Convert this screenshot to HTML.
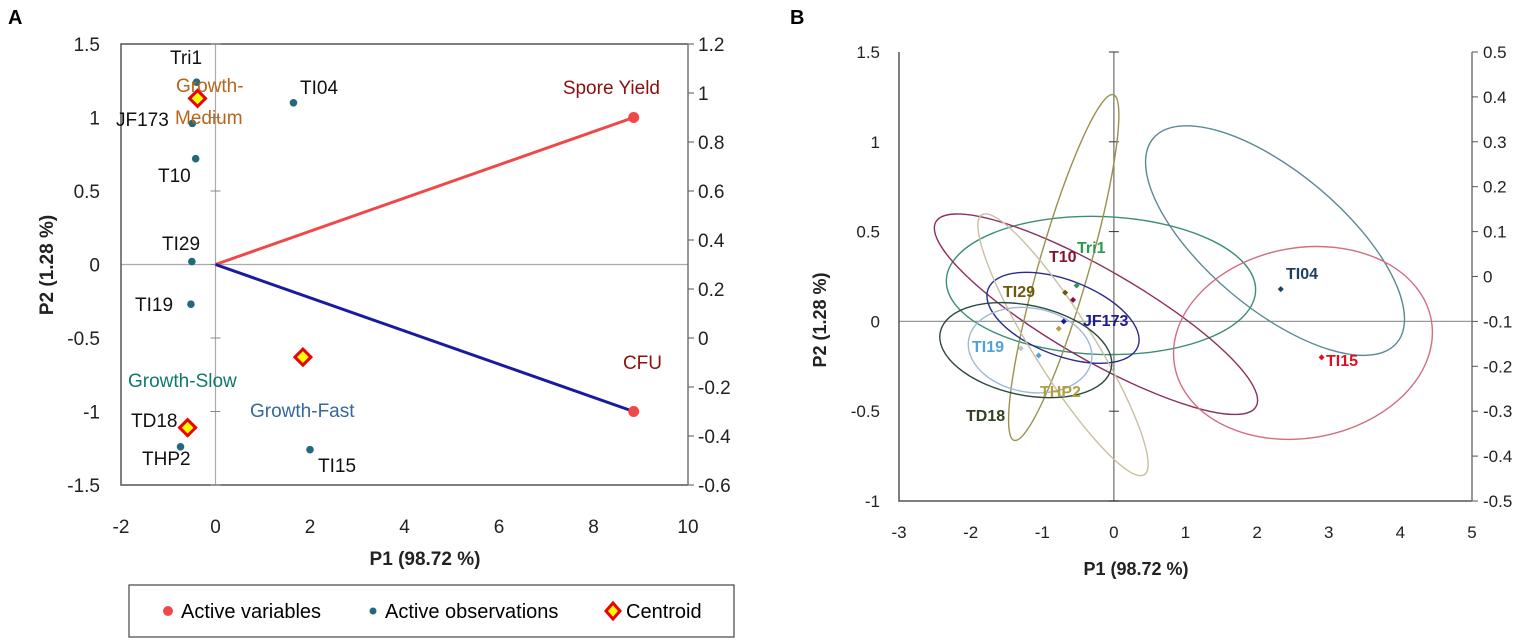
<!DOCTYPE html>
<html><head><meta charset="utf-8"><style>
body{margin:0;background:#fff;}
svg{display:block;font-family:"Liberation Sans",sans-serif;}
</style></head><body>
<svg id="fig" width="1535" height="642" viewBox="0 0 1535 642">
<text x="8" y="24" font-size="20" font-weight="bold">A</text>
<text x="790" y="24" font-size="20" font-weight="bold">B</text>
<g id="pa"></g>
<g id="pb"></g>
<g>
<rect x="129" y="585" width="605" height="52" fill="#fff" stroke="#444" stroke-width="1.2"/>
<circle cx="168" cy="611" r="5" fill="#f04848"/>
<text x="181" y="618" font-size="20">Active variables</text>
<circle cx="373" cy="611" r="3.5" fill="#23697d"/>
<text x="385" y="618" font-size="20">Active observations</text>
<path d="M613 603 L620 611 L613 619 L606 611Z" fill="#ff0" stroke="#e00" stroke-width="3"/>
<text x="626" y="618" font-size="20">Centroid</text>
</g>
</svg>
<script>
// ---------- Panel A data ----------
const aObsNames = ["Tri1","JF173","T10","TI29","TI19","TD18","THP2","TI04","TI15"];
const aObsP1 = [-0.4,-0.49,-0.42,-0.5,-0.52,-0.62,-0.74,1.65,2.0];
const aObsP2 = [1.24,0.96,0.72,0.02,-0.27,-1.1,-1.24,1.1,-1.26];
const aVarNames = ["Spore Yield","CFU"];
const aVarP1 = [8.85,8.85];
const aVarP2 = [1.0,-1.0];
const aCentNames = ["Growth-Medium","Growth-Fast","Growth-Slow"];
const aCentP1 = [-0.38,1.85,-0.59];
const aCentP2 = [1.13,-0.63,-1.11];
const aXTicks = [-2,0,2,4,6,8,10];
const aYTicks = [1.5,1,0.5,0,-0.5,-1,-1.5];
const aY2Ticks = [1.2,1,0.8,0.6,0.4,0.2,0,-0.2,-0.4,-0.6];

// ---------- Panel B data ----------
const bNames = ["Tri1","T10","TI29","JF173","THP2","TI19","TD18","TI04","TI15"];
const bP1 = [-0.52,-0.57,-0.68,-0.70,-0.77,-1.05,-1.3,2.33,2.9];
const bP2 = [0.20,0.12,0.16,0.0,-0.04,-0.19,-0.15,0.18,-0.2];
const bColors = ["#2a9a50","#8b1030","#6a5a10","#1a1a9a","#b0a040","#4ea0e0","#304020","#1f3f5f","#e01020"];
// ellipses: centre (data), semi-axes (data units along P1 scale / P2 scale), rotation deg
const eCx = [-0.18,-0.25,-0.70,-0.71,-0.71,-1.17,-1.23,2.25,2.64];
const eCy = [0.20,0.04,0.30,0.02,-0.13,-0.16,-0.16,0.45,-0.12];
const eRx = [2.16,2.58,2.51,1.12,2.14,0.87,1.22,2.22,1.82];
const eRy = [0.384,0.25,0.14,0.21,0.167,0.234,0.25,0.38,0.53];
const eRot = [2,30,-74,21,58,10,12,40,-10];
const eColors = ["#3d8e74","#8a3060","#9a9050","#2a2a90","#c8c0a0","#9fb8d8","#2d4a40","#5b8a94","#d06f80"];
const bXTicks = [-3,-2,-1,0,1,2,3,4,5];
const bYTicks = [1.5,1,0.5,0,-0.5,-1];
const bY2Ticks = [0.5,0.4,0.3,0.2,0.1,0,-0.1,-0.2,-0.3,-0.4,-0.5];

const NS="http://www.w3.org/2000/svg";
function mk(parent,tag,attrs,text){const e=document.createElementNS(NS,tag);for(const k in attrs)e.setAttribute(k,attrs[k]);if(text!==undefined)e.textContent=text;parent.appendChild(e);return e;}

// ---- Panel A ----
const pa=document.getElementById('pa');
const aL=121,aR=688,aT=44,aB=485;
const ax=v=>aL+(v-(-2))/12*(aR-aL);
const ay=v=>aT+(1.5-v)/3*(aB-aT);
const ay2=v=>aT+(1.2-v)/1.8*(aB-aT);
let e;
e=mk(pa,'line',{x1:ax(0),y1:aT,x2:ax(0),y2:aB,stroke:'#aaa','stroke-width':1.2});


e=mk(pa,'line',{x1:aL,y1:ay(0),x2:aR,y2:ay(0),stroke:'#aaa','stroke-width':1.2});


e=mk(pa,'path',{d:`M${aR} ${aT} L${aL} ${aT} L${aL} ${aB} L${aR} ${aB}`,fill:'none',stroke:'#555','stroke-width':1.5});


e=mk(pa,'line',{x1:aR,y1:aT,x2:aR,y2:aB,stroke:'#777','stroke-width':1.5});


aYTicks.forEach(v=>{
  const t=mk(pa,'text',{x:100,y:ay(v)+7,'font-size':19,'text-anchor':'end',fill:'#222'},String(v));
  
  
  const l=mk(pa,'line',{x1:ax(0)-5,y1:ay(v),x2:ax(0)+5,y2:ay(v),stroke:'#888'});
  
  
});
aY2Ticks.forEach(v=>{
  const t=mk(pa,'text',{x:698,y:ay2(v)+7,'font-size':19,fill:'#222'},String(v));
  
  
  const l=mk(pa,'line',{x1:aR,y1:ay2(v),x2:aR+6,y2:ay2(v),stroke:'#555'});
  
  
});
aXTicks.forEach(v=>{
  const t=mk(pa,'text',{x:ax(v),y:533,'font-size':19,'text-anchor':'middle',fill:'#222'},String(v));
  
  
});
e=mk(pa,'text',{x:425,y:565,'font-size':19,'font-weight':'bold','text-anchor':'middle',fill:'#222'},'P1 (98.72 %)');


e=mk(pa,'text',{x:0,y:0,'font-size':19,'font-weight':'bold','text-anchor':'middle',fill:'#222',transform:`translate(53,265) rotate(-90)`},'P2 (1.28 %)');


const varCol=["#f04848","#1a1aa0"];
aVarNames.forEach((n,i)=>{
  const l=mk(pa,'line',{x1:ax(0),y1:ay(0),x2:ax(aVarP1[i]),y2:ay(aVarP2[i]),stroke:varCol[i],'stroke-width':3});
  
  
  const c=mk(pa,'circle',{cx:ax(aVarP1[i]),cy:ay(aVarP2[i]),r:5.5,fill:'#f04848'});
  
  
});
const varLab=[[660,94],[662,369]];
aVarNames.forEach((n,i)=>{
  const t=mk(pa,'text',{x:varLab[i][0],y:varLab[i][1],'font-size':19,'text-anchor':'end',fill:'#8b1010'},n);
  
  
});
aObsNames.forEach((n,i)=>{
  const c=mk(pa,'circle',{cx:ax(aObsP1[i]),cy:ay(aObsP2[i]),r:3.8,fill:'#23697d'});
  
  
});
const obsLab=[[170,64],[116,126],[158,182],[162,250],[135,311],[131,427],[142,465],[300,94],[318,472]];
aObsNames.forEach((n,i)=>{
  const t=mk(pa,'text',{x:obsLab[i][0],y:obsLab[i][1],'font-size':19,fill:'#111'},n);
  
  
});
aCentNames.forEach((n,i)=>{
  const x=ax(aCentP1[i]),y=ay(aCentP2[i]);
  const d=mk(pa,'path',{d:`M${x} ${y-8} L${x+8} ${y} L${x} ${y+8} L${x-8} ${y}Z`,fill:'#ff0',stroke:'#e00','stroke-width':3});
  
  
});
[["Growth-",176,92,"#b8651c"],["Medium",175,124,"#b8651c"],["Growth-Slow",128,387,"#0e7a6c"],["Growth-Fast",250,417,"#35689c"]].forEach(a=>{
  const t=mk(pa,'text',{x:a[1],y:a[2],'font-size':19,fill:a[3]},a[0]);
  
  
});

// ---- Panel B ----
const pb=document.getElementById('pb');
const bL=899,bR=1472,bT=52,bB=501;
const bx=v=>bL+(v+3)/8*(bR-bL);
const by=v=>bT+(1.5-v)/2.5*(bB-bT);
const by2=v=>bT+(0.5-v)/1.0*(bB-bT);
const sx=(bR-bL)/8, sy=(bB-bT)/2.5;
e=mk(pb,'line',{x1:bx(0),y1:bT,x2:bx(0),y2:bB,stroke:'#777','stroke-width':1.3});


e=mk(pb,'line',{x1:bL,y1:by(0),x2:bR,y2:by(0),stroke:'#999','stroke-width':1.2});


e=mk(pb,'path',{d:`M${bL} ${bT} L${bL} ${bB} L${bR} ${bB}`,fill:'none',stroke:'#555','stroke-width':1.5});


e=mk(pb,'line',{x1:bR,y1:bT,x2:bR,y2:bB,stroke:'#777','stroke-width':1.5});


bYTicks.forEach(v=>{
  const t=mk(pb,'text',{x:880,y:by(v)+6,'font-size':17,'text-anchor':'end',fill:'#222'},String(v));
  
  
  const l=mk(pb,'line',{x1:bx(0)-5,y1:by(v),x2:bx(0)+5,y2:by(v),stroke:'#333'});
  
  
});
bY2Ticks.forEach(v=>{
  const t=mk(pb,'text',{x:1483,y:by2(v)+6,'font-size':17,fill:'#222'},String(v));
  
  
  const l=mk(pb,'line',{x1:bR,y1:by2(v),x2:bR+6,y2:by2(v),stroke:'#555'});
  
  
});
bXTicks.forEach(v=>{
  const t=mk(pb,'text',{x:bx(v),y:538,'font-size':17,'text-anchor':'middle',fill:'#222'},String(v));
  
  
});
e=mk(pb,'text',{x:1136,y:575,'font-size':18,'font-weight':'bold','text-anchor':'middle',fill:'#222'},'P1 (98.72 %)');


e=mk(pb,'text',{x:0,y:0,'font-size':18,'font-weight':'bold','text-anchor':'middle',fill:'#222',transform:`translate(826,320) rotate(-90)`},'P2 (1.28 %)');


eCx.forEach((c,i)=>{
  const el=mk(pb,'ellipse',{cx:bx(c),cy:by(eCy[i]),rx:eRx[i]*sx,ry:eRy[i]*sy,fill:'none',stroke:eColors[i],'stroke-width':1.4,transform:`rotate(${eRot[i]} ${bx(c)} ${by(eCy[i])})`});
  
  
});
bNames.forEach((n,i)=>{
  const x=bx(bP1[i]),y=by(bP2[i]);
  const d=mk(pb,'path',{d:`M${x} ${y-3} L${x+3} ${y} L${x} ${y+3} L${x-3} ${y}Z`,fill:bColors[i],opacity:(n==='TD18'?0.3:1)});
  
  
});
const bLab=[[1077,253],[1049,262],[1003,297],[1083,326],[1040,397],[972,352],[966,421],[1286,279],[1326,366]];
bNames.forEach((n,i)=>{
  const t=mk(pb,'text',{x:bLab[i][0],y:bLab[i][1],'font-size':16,'font-weight':'bold',fill:bColors[i]},n);
  
  
});
</script>
</body></html>
